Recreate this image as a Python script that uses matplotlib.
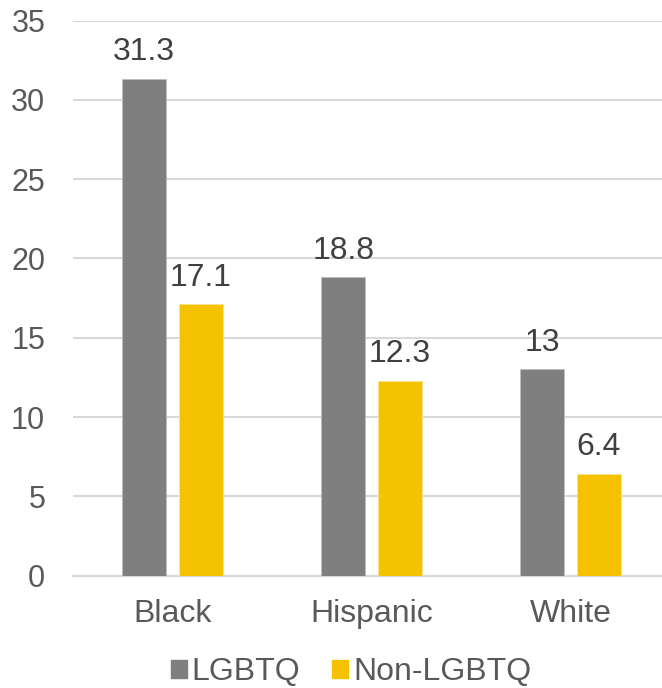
import matplotlib.pyplot as plt
import numpy as np
from matplotlib.patches import Patch

# grouped bars, two series per group
groups = ['Black', 'Hispanic', 'White']
lgbtq = [31.3, 18.8, 13]
non_lgbtq = [17.1, 12.3, 6.4]
series_names = ['LGBTQ', 'Non-LGBTQ']
yticks = [0, 5, 10, 15, 20, 25, 30, 35]

grey = '#7f7f7f'
gold = '#f5c200'
text_col = '#595959'
grid_col = '#d9d9d9'

plt.rcParams['font.family'] = ['Liberation Sans', 'DejaVu Sans']

fig = plt.figure(figsize=(6.62, 6.88), dpi=100)
ax = fig.add_axes([73 / 662, 0.1632, 597 / 662, 0.807])

x = np.arange(len(groups))
w = 0.221
off = 0.142
b1 = ax.bar(x - off, lgbtq, w, color=grey, edgecolor='#bfbfbf', linewidth=0.6, zorder=3)
b2 = ax.bar(x + off, non_lgbtq, w, color=gold, edgecolor='#fbe38a', linewidth=0.6, zorder=3)

for bars, vals in ((b1, lgbtq), (b2, non_lgbtq)):
    for r, v in zip(bars, vals):
        ax.annotate('{:g}'.format(v), (r.get_x() + r.get_width() / 2, v),
                    xytext=(0, 13.5), textcoords='offset points',
                    ha='center', va='baseline', fontsize=23, color='#404040')

ax.set_xlim(-0.5, 2.5)
ax.set_ylim(0, 35)
ax.set_yticks(yticks)
ax.set_xticks(x)
ax.set_xticklabels(groups)
ax.yaxis.grid(True, color=grid_col, linewidth=1.5, zorder=0)
ax.set_axisbelow(True)
for s in ('top', 'right', 'left'):
    ax.spines[s].set_visible(False)
ax.spines['bottom'].set_color(grid_col)
ax.spines['bottom'].set_linewidth(1.5)
ax.tick_params(axis='both', length=0, labelsize=23, labelcolor=text_col)
ax.tick_params(axis='y', labelsize=22, pad=20)
ax.tick_params(axis='x', pad=17)

handles = [Patch(color=grey), Patch(color=gold)]
fig.legend(handles, series_names, loc='center', bbox_to_anchor=(351 / 662, 16 / 688),
           ncol=2, frameon=False, fontsize=23, handlelength=0.5, handleheight=0.5,
           handletextpad=0.16, columnspacing=1.0, labelcolor=text_col)

fig.savefig('out.png', dpi=100)
